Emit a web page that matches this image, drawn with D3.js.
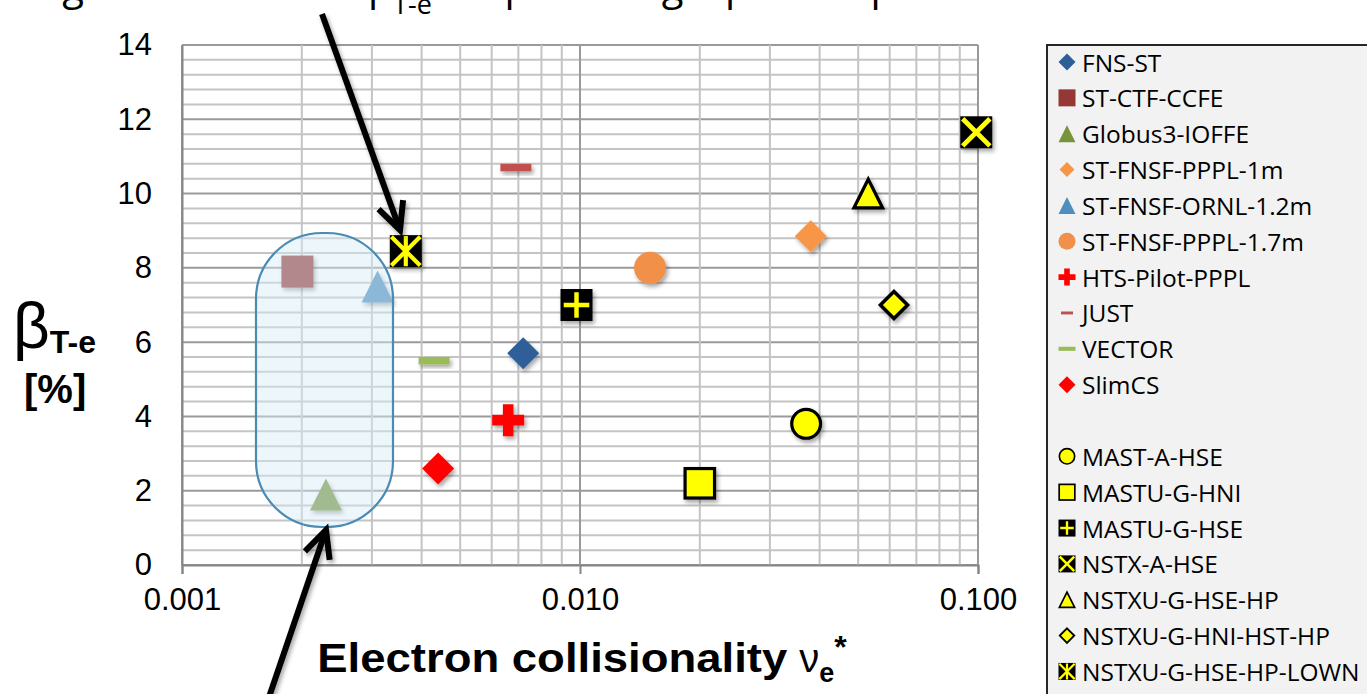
<!DOCTYPE html>
<html><head><meta charset="utf-8">
<script src="https://cdn.jsdelivr.net/npm/d3@7"></script>
<style>html,body{margin:0;padding:0;background:#fff;overflow:hidden}</style>
</head><body>
<svg id="chart" width="1367" height="694"></svg>
<script>
// ---------- data ----------
const seriesNames = ["FNS-ST","ST-CTF-CCFE","Globus3-IOFFE","ST-FNSF-PPPL-1m","ST-FNSF-ORNL-1.2m","ST-FNSF-PPPL-1.7m","HTS-Pilot-PPPL","JUST","VECTOR","SlimCS","MAST-A-HSE","MASTU-G-HNI","MASTU-G-HSE","NSTX-A-HSE","NSTXU-G-HSE-HP","NSTXU-G-HNI-HST-HP","NSTXU-G-HSE-HP-LOWN"];
const nuValues   = [0.0072, 0.00195, 0.0023, 0.038, 0.0031, 0.015, 0.0066, 0.0069, 0.0043, 0.0044, 0.037, 0.020, 0.0098, 0.099, 0.053, 0.0615, 0.00365];
const betaValues = [5.7, 7.9, 1.9, 8.85, 7.5, 8.0, 3.9, 10.7, 5.5, 2.6, 3.8, 2.2, 7.0, 11.65, 10.0, 7.0, 8.45];
const markerTypes = ["diamond","square","triangle","diamond","triangle","circle","cross","dash","dash","diamond","circle","square","plusBox","xBox","triangle","diamond","starBox"];
const fillColors  = ["#2d5e98","#953735","#77933c","#f79646","#4f8fbd","#f0904a","#ff0000","#c0504d","#9bbb59","#ff0000","#ffff00","#ffff00","#000000","#000000","#ffff00","#ffff00","#000000"];
const xTickValues = [0.001, 0.01, 0.1];
const xTickLabels = ["0.001","0.010","0.100"];
const yTickValues = [0,2,4,6,8,10,12,14];

// ---------- layout ----------
const svg = d3.select("#chart");
const L=182,R=978,T=45,B=565;
const x = d3.scaleLog().domain([0.001,0.1]).range([L,R]);
const y = d3.scaleLinear().domain([0,14]).range([B,T]);

const defs = svg.append("defs");
const f = defs.append("filter").attr("id","sh").attr("x","-50%").attr("y","-50%").attr("width","200%").attr("height","200%");
f.append("feDropShadow").attr("dx",2).attr("dy",3).attr("stdDeviation",2).attr("flood-color","#000").attr("flood-opacity",0.35);

// title (cut off at top of picture)
const title = svg.append("g").attr("font-family","Open Sans, sans-serif").attr("fill","#000");
title.append("text").attr("x",84).attr("y",0).attr("text-anchor","end").attr("font-size",40).text("Strong");
const tb = title.append("text").attr("x",368).attr("y",0).attr("font-size",40);
tb.append("tspan").text("β");
tb.append("tspan").attr("dy",14).attr("font-size",27).text("T-e");
title.append("text").attr("x",480).attr("y",0).attr("font-size",40).text("up");
title.append("text").attr("x",706).attr("y",0).attr("text-anchor","end").attr("font-size",40).text("range");
title.append("text").attr("x",725).attr("y",0).attr("font-size",40).text("plasma parameters");

// grid
const grid = svg.append("g");
const minorY = d3.range(0,36).map(i=>+(i*0.4).toFixed(1));
grid.selectAll(".hy").data(minorY).join("line")
  .attr("x1",L).attr("x2",R).attr("y1",d=>y(d)).attr("y2",d=>y(d))
  .attr("stroke",d=>(Math.abs(d%2)<1e-6||Math.abs(d%2-2)<1e-6)?"#9a9a9a":"#c4c4c4").attr("stroke-width",2);
const minorX = [];
[0.001,0.01].forEach(b=>{for(let k=2;k<=9;k++) minorX.push(b*k);});
grid.selectAll(".vx").data(minorX).join("line")
  .attr("y1",T).attr("y2",B).attr("x1",d=>x(d)).attr("x2",d=>x(d))
  .attr("stroke","#c4c4c4").attr("stroke-width",2);
grid.selectAll(".vxm").data(xTickValues).join("line")
  .attr("y1",T).attr("y2",B).attr("x1",d=>x(d)).attr("x2",d=>x(d))
  .attr("stroke","#9a9a9a").attr("stroke-width",2);

// axes
const xAxis = d3.axisBottom(x).tickValues(xTickValues).tickFormat((d,i)=>xTickLabels[i]).tickSize(9).tickPadding(14);
const gx = svg.append("g").attr("transform",`translate(0,${B})`).call(xAxis);
gx.select(".domain").attr("stroke","#868686").attr("stroke-width",2);
gx.selectAll(".tick line").attr("stroke","#868686").attr("stroke-width",2);
gx.selectAll("text").attr("font-family","Liberation Sans, Arial, sans-serif").attr("font-size",31).attr("fill","#000");
const yAxis = d3.axisLeft(y).tickValues(yTickValues).tickFormat(d3.format("d")).tickSize(0).tickPadding(30);
const gy = svg.append("g").attr("transform",`translate(${L},0)`).call(yAxis);
gy.select(".domain").attr("stroke","#868686").attr("stroke-width",2);
gy.selectAll("text").attr("font-family","Liberation Sans, Arial, sans-serif").attr("font-size",31).attr("fill","#000");

// marker drawing
function drawMarker(g, type, s, fill){
  const h=s/2;
  if(type==="diamond"){
    const isY = fill==="#ffff00";
    const hh = isY? h*0.85 : h;
    g.append("path").attr("d",`M0,${-hh}L${hh},0L0,${hh}L${-hh},0Z`).attr("fill",fill)
      .attr("stroke",isY?"#000":"none").attr("stroke-width",isY?s*0.11:0);
  } else if(type==="square"){
    const isY = fill==="#ffff00";
    const hh = isY? h*0.92 : h;
    g.append("rect").attr("x",-hh).attr("y",-hh).attr("width",2*hh).attr("height",2*hh).attr("fill",fill)
      .attr("stroke",isY?"#000":"none").attr("stroke-width",isY?s*0.1:0);
  } else if(type==="triangle"){
    const isY = fill==="#ffff00";
    const hh = isY? h*0.9 : h;
    g.append("path").attr("d",`M0,${-hh}L${hh},${hh}L${-hh},${hh}Z`).attr("fill",fill)
      .attr("stroke",isY?"#000":"none").attr("stroke-width",isY?s*0.1:0).attr("stroke-linejoin","miter");
  } else if(type==="circle"){
    const isY = fill==="#ffff00";
    g.append("circle").attr("r",isY?h*0.9:h).attr("fill",fill)
      .attr("stroke",isY?"#000":"none").attr("stroke-width",isY?s*0.1:0);
  } else if(type==="cross"){
    const w=s*0.33;
    g.append("path").attr("d",`M${-w/2},${-h}H${w/2}V${-w/2}H${h}V${w/2}H${w/2}V${h}H${-w/2}V${w/2}H${-h}V${-w/2}H${-w/2}Z`).attr("fill",fill);
  } else if(type==="dash"){
    g.append("rect").attr("x",-h).attr("y",-s*0.12).attr("width",s).attr("height",s*0.24).attr("fill",fill);
  } else if(type==="plusBox"){
    g.append("rect").attr("x",-h).attr("y",-h).attr("width",s).attr("height",s).attr("fill","#000");
    g.append("path").attr("d",`M0,${-h*0.8}V${h*0.8}M${-h*0.8},0H${h*0.8}`).attr("stroke","#ffff00").attr("stroke-width",s*0.14);
  } else if(type==="xBox"){
    g.append("rect").attr("x",-h).attr("y",-h).attr("width",s).attr("height",s).attr("fill","#000");
    g.append("path").attr("d",`M${-h*0.85},${-h*0.85}L${h*0.85},${h*0.85}M${h*0.85},${-h*0.85}L${-h*0.85},${h*0.85}`).attr("stroke","#ffff00").attr("stroke-width",s*0.15);
  } else if(type==="starBox"){
    g.append("rect").attr("x",-h).attr("y",-h).attr("width",s).attr("height",s).attr("fill","#000");
    g.append("path").attr("d",`M${-h*0.9},${-h*0.9}L${h*0.9},${h*0.9}M${h*0.9},${-h*0.9}L${-h*0.9},${h*0.9}M0,${-h*0.95}V${h*0.95}`).attr("stroke","#ffff00").attr("stroke-width",s*0.13);
  }
}

// points
const pts = svg.append("g");
seriesNames.forEach((n,i)=>{
  const g = pts.append("g").attr("transform",`translate(${x(nuValues[i])},${y(betaValues[i])})`).attr("filter","url(#sh)");
  drawMarker(g, markerTypes[i], markerTypes[i]==="dash"?31:32, fillColors[i]);
});

// highlight rounded rectangle
svg.append("rect").attr("x",256).attr("y",233).attr("width",137).attr("height",294)
  .attr("rx",66).attr("ry",66)
  .attr("fill","#d6ecf7").attr("fill-opacity",0.45)
  .attr("stroke","#4a8bb4").attr("stroke-width",2.2);

// arrows
function arrow(x1,y1,x2,y2){
  const g = svg.append("g").attr("filter","url(#sh)");
  const ang = Math.atan2(y2-y1,x2-x1);
  const len=30, spread=0.45;
  g.append("line").attr("x1",x1).attr("y1",y1).attr("x2",x2-Math.cos(ang)*3).attr("y2",y2-Math.sin(ang)*3)
    .attr("stroke","#000").attr("stroke-width",6);
  const a1=ang+Math.PI-spread, a2=ang+Math.PI+spread;
  g.append("path").attr("d",`M${x2+Math.cos(a1)*len},${y2+Math.sin(a1)*len}L${x2},${y2}L${x2+Math.cos(a2)*len},${y2+Math.sin(a2)*len}`)
    .attr("fill","none").attr("stroke","#000").attr("stroke-width",6).attr("stroke-linejoin","miter");
}
arrow(322,14,400,230);
arrow(268,700,326,530);

// axis titles
const xt = svg.append("text").attr("x",582).attr("y",672).attr("text-anchor","middle")
  .attr("font-family","Liberation Sans, Arial, sans-serif").attr("font-weight","bold").attr("font-size",40).attr("fill","#000");
xt.append("tspan").attr("textLength",470).attr("lengthAdjust","spacingAndGlyphs").text("Electron collisionality");
xt.append("tspan").attr("font-weight","normal").attr("dx",12).text("ν");
xt.append("tspan").attr("dy",10).attr("font-size",27).text("e");
xt.append("tspan").attr("dy",-24).attr("font-size",32).text("*");

const yt = svg.append("text").attr("x",13).attr("y",348)
  .attr("font-family","Liberation Sans, Arial, sans-serif").attr("fill","#000");
yt.append("tspan").attr("font-size",64).text("β");
yt.append("tspan").attr("font-size",32).attr("font-weight","bold").attr("dy",5).text("T-e");
svg.append("text").attr("x",24).attr("y",403).attr("font-family","Liberation Sans, Arial, sans-serif")
  .attr("font-size",40).attr("font-weight","bold").attr("fill","#000").text("[%]");

// legend
const lg = svg.append("g");
lg.append("rect").attr("x",1047).attr("y",45).attr("width",340).attr("height",670)
  .attr("fill","#f2f2f2").attr("stroke","#262626").attr("stroke-width",2);
seriesNames.forEach((n,i)=>{
  const slot = i<10? i : i+1;
  const cy = 62 + slot*35.85;
  const g = lg.append("g").attr("transform",`translate(1067,${cy})`);
  const t = markerTypes[i];
  const sz = t==="dash" ? (n==="JUST"?12:17) : (n==="ST-FNSF-PPPL-1m"?15:17);
  drawMarker(g, t, sz, fillColors[i]);
  lg.append("text").attr("x",1082).attr("y",cy).attr("dominant-baseline","central")
    .attr("font-family","Open Sans, sans-serif").attr("font-size",24.5).attr("fill","#000").text(n);
});
</script>
</body></html>
